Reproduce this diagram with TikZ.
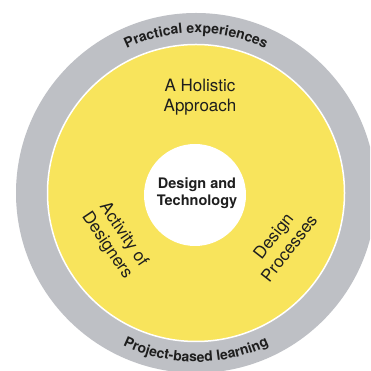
\documentclass[tikz,border=0pt]{standalone}
\usepackage{fontspec}
\setmainfont{TeX Gyre Heros}
\usetikzlibrary{decorations.text}
\definecolor{ringgray}{RGB}{190,192,197}
\definecolor{ringyellow}{RGB}{248,228,92}
\definecolor{inkdark}{RGB}{30,30,30}
\begin{document}
\begin{tikzpicture}[x=1pt,y=1pt,
  disc/.style={circle, inner sep=0pt},
  ringtext/.style={text=inkdark, font=\fontsize{17}{20}\selectfont, align=center},
  coretext/.style={text=inkdark, font=\bfseries\fontsize{14.5}{17.5}\selectfont, align=center}]
\useasboundingbox (0,0) rectangle (370,371);
\clip (0,0) rectangle (370,371);
\fill[white] (0,0) rectangle (370,371);
\node[disc, fill=ringgray, minimum size=360pt] (outer) at (196,178) {};
\node[disc, fill=ringyellow, draw=white, line width=1.5pt, minimum size=297pt] (middle) at (196,178) {};
\node[disc, fill=white, minimum size=102pt] (core) at (195,176) {};
\node[coretext] (dt) at (197,178) {Design and\\Technology};
\node[ringtext] (holistic) at (200,274) {A Holistic\\Approach};
\node[ringtext, rotate=-56] (activity) at (115,131) {Activity of\\Designers};
\node[ringtext, rotate=52] (processes) at (281,129) {Design\\Processes};
\path[decorate, decoration={text along path, text align=center, text={|\color{inkdark}\bfseries\fontsize{14}{14}\selectfont|Practical experiences}}] (outer.center) ++(130:160) arc[start angle=130, end angle=50, radius=160];
\path[decorate, decoration={text along path, text align=center, text={|\color{inkdark}\bfseries\fontsize{14}{14}\selectfont|Project-based learning}}] (outer.center) ++(230:169) arc[start angle=230, end angle=310, radius=169];
\end{tikzpicture}
\end{document}
